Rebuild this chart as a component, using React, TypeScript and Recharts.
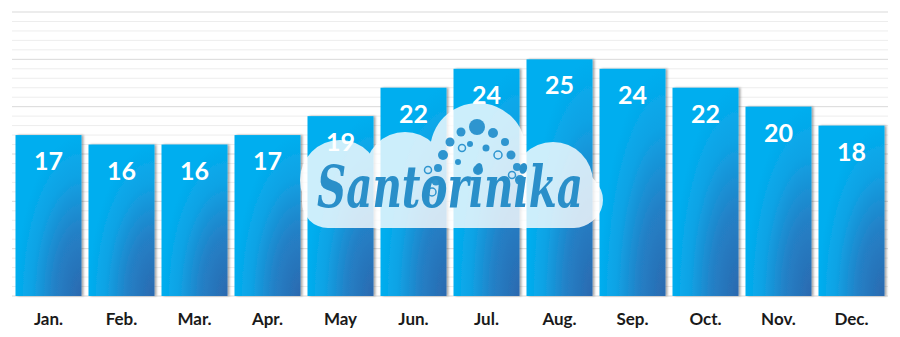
import React from 'react';
import { BarChart, Bar, XAxis, YAxis, CartesianGrid, LabelList } from 'recharts';

// average monthly temperature (°C)
const months = ['Jan.', 'Feb.', 'Mar.', 'Apr.', 'May', 'Jun.', 'Jul.', 'Aug.', 'Sep.', 'Oct.', 'Nov.', 'Dec.'];
const temps = [17, 16, 16, 17, 19, 22, 24, 25, 24, 22, 20, 18];

// y scale 0..30, faint line every degree, stronger one every 5
const gridTicks = [0, 1, 2, 3, 4, 5, 6, 7, 8, 9, 10, 11, 12, 13, 14, 15, 16, 17, 18, 19, 20, 21, 22, 23, 24, 25, 26, 27, 28, 29, 30];
const majorStep = 5;

const data = months.map((m, i) => ({ month: m, temp: temps[i] }));

const FONT = 'Lato, "Open Sans", sans-serif';

const GridLine = (props: any) => {
  const { x1, x2, y1, y2, index } = props;
  const major = gridTicks[index] % majorStep === 0;
  return <line x1={x1} x2={x2} y1={y1} y2={y2} stroke={major ? '#d9d9d9' : '#ededed'} strokeWidth={1} />;
};

const BarShape = (props: any) => {
  const { x, y, width, height } = props;
  return <rect x={x} y={y} width={width} height={height} fill="url(#barGrad)" filter="url(#barShadow)" />;
};

const ValueLabel = (props: any) => {
  const { x, y, width, value } = props;
  return (
    <text x={x + width / 2} y={y + 35} textAnchor="middle" fill="#fff" fontSize={25} fontWeight={700} fontFamily={FONT}>
      {value}
    </text>
  );
};

// cloud logo drawn on top of the chart, like the site watermark
const Watermark = () => (
  <svg width={900} height={337} style={{ position: 'absolute', left: 0, top: 0, pointerEvents: 'none' }}>
    <g fill="#fff" opacity={0.8}>
      <circle cx={340} cy={180} r={40} />
      <circle cx={405} cy={172} r={40} />
      <circle cx={478} cy={151} r={48} />
      <circle cx={553} cy={182} r={40} />
      <circle cx={577} cy={200} r={26} />
      <rect x={302} y={170} width={298} height={58} rx={26} />
      <rect x={330} y={160} width={240} height={40} />
    </g>
    <g fill="#1e8ccb" opacity={0.9}>
      <circle cx={477} cy={127} r={8} />
      <circle cx={461} cy={132} r={4.5} />
      <circle cx={493} cy={133} r={5} />
      <circle cx={450} cy={142} r={4.5} />
      <circle cx={505} cy={142} r={4} />
      <circle cx={443} cy={155} r={5} />
      <circle cx={511} cy={155} r={4.5} />
      <circle cx={438} cy={168} r={4} />
      <circle cx={517} cy={167} r={4} />
      <circle cx={436} cy={181} r={4.5} />
      <circle cx={520} cy={180} r={5} />
      <circle cx={478} cy={170} r={5} />
      <circle cx={470} cy={144} r={3} />
      <circle cx={486} cy={148} r={3.5} />
      <circle cx={458} cy={162} r={3} />
    </g>
    <g fill="none" stroke="#1e8ccb" strokeWidth={1.5} opacity={0.9}>
      <circle cx={462} cy={148} r={3.5} />
      <circle cx={498} cy={155} r={4} />
      <circle cx={428} cy={170} r={3.5} />
      <circle cx={512} cy={175} r={3.5} />
      <circle cx={432} cy={192} r={4} />
    </g>
    <text
      x={450}
      y={207}
      textAnchor="middle"
      fontSize={58}
      fontStyle="italic"
      fontWeight={700}
      fontFamily='"DejaVu Serif", serif'
      fill="#2a8fc9"
      textLength={266}
      lengthAdjust="spacingAndGlyphs"
    >
      Santorinika
    </text>
  </svg>
);

export default function App() {
  return (
    <div style={{ position: 'relative', width: 900, height: 337, background: '#fff' }}>
      <style>{'body{margin:0}'}</style>
      <BarChart width={900} height={337} data={data} margin={{ top: 12, right: 12, bottom: 0, left: 12 }} barCategoryGap="4.8%">
        <defs>
          <radialGradient id="barGrad" cx={1} cy={1} r={1} gradientUnits="objectBoundingBox">
            <stop offset="0%" stopColor="#2b69af" />
            <stop offset="40%" stopColor="#2480c6" />
            <stop offset="75%" stopColor="#0ea3e5" />
            <stop offset="100%" stopColor="#00aeef" />
          </radialGradient>
          <filter id="barShadow" x="-10%" y="-5%" width="130%" height="115%">
            <feDropShadow dx={2} dy={0} stdDeviation={1.2} floodColor="#000" floodOpacity={0.35} />
          </filter>
        </defs>
        <CartesianGrid vertical={false} horizontal={GridLine} />
        <XAxis
          dataKey="month"
          height={41}
          axisLine={false}
          tickLine={false}
          tickSize={0}
          tickMargin={17}
          interval={0}
          tick={{ fill: '#1a1a1a', fontSize: 17, fontWeight: 700, fontFamily: FONT }}
        />
        <YAxis hide domain={[0, 30]} ticks={gridTicks} interval={0} />
        <Bar dataKey="temp" shape={BarShape} isAnimationActive={false}>
          <LabelList dataKey="temp" content={ValueLabel} />
        </Bar>
      </BarChart>
      <Watermark />
    </div>
  );
}
